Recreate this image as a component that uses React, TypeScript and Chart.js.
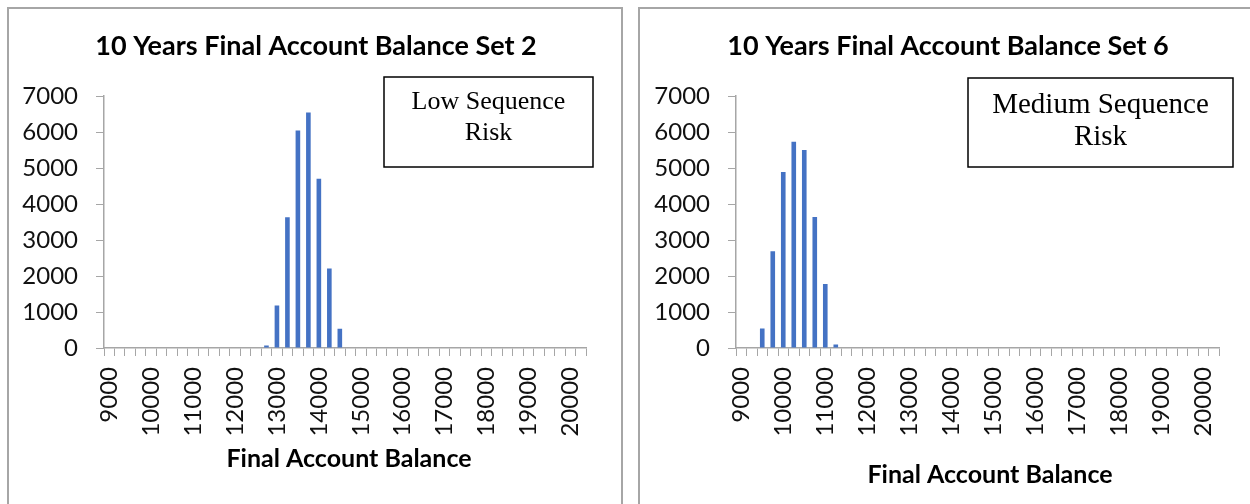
import React, { useEffect, useRef } from 'react';
import { Chart, registerables } from 'chart.js';

Chart.register(...registerables);

// Category bins (final account balance)
const categories = [
  9000, 9250, 9500, 9750, 10000, 10250, 10500, 10750, 11000, 11250, 11500, 11750,
  12000, 12250, 12500, 12750, 13000, 13250, 13500, 13750, 14000, 14250, 14500, 14750,
  15000, 15250, 15500, 15750, 16000, 16250, 16500, 16750, 17000, 17250, 17500, 17750,
  18000, 18250, 18500, 18750, 19000, 19250, 19500, 19750, 20000, 20250,
];

// Labeled x ticks
const xTickLabels = [9000, 10000, 11000, 12000, 13000, 14000, 15000, 16000, 17000, 18000, 19000, 20000];

// Y ticks
const yMin = 0;
const yMax = 7000;
const yStep = 1000;

// Set 2 frequencies (Low Sequence Risk)
const set2Counts = [
  0, 0, 0, 0, 0, 0, 0, 0, 0, 0, 0, 0,
  0, 0, 0, 70, 1180, 3630, 6040, 6540, 4700, 2210, 535, 0,
  0, 0, 0, 0, 0, 0, 0, 0, 0, 0, 0, 0,
  0, 0, 0, 0, 0, 0, 0, 0, 0, 0,
];

// Set 6 frequencies (Medium Sequence Risk)
const set6Counts = [
  0, 0, 540, 2690, 4890, 5730, 5500, 3640, 1780, 100, 0, 0,
  0, 0, 0, 0, 0, 0, 0, 0, 0, 0, 0, 0,
  0, 0, 0, 0, 0, 0, 0, 0, 0, 0, 0, 0,
  0, 0, 0, 0, 0, 0, 0, 0, 0, 0,
];

const set2Title = '10 Years Final Account Balance Set 2';
const set6Title = '10 Years Final Account Balance Set 6';
const xAxisTitle = 'Final Account Balance';
const set2Note = ['Low Sequence', 'Risk'];
const set6Note = ['Medium Sequence', 'Risk'];

const BAR = '#4472C4';
const AXIS = '#a6a6a6';
const SANS = 'Lato';
const SERIF = '"Liberation Serif", "Times New Roman", serif';

type Geo = {
  canvasW: number;
  canvasH: number;
  areaLeft: number;
  areaRight: number;
  areaTop: number;
  areaBottom: number;
  titleX: number;
  titleY: number;
  axisTitleX: number;
  axisTitleY: number;
  box: { x1: number; y1: number; x2: number; y2: number };
  noteX: number;
  noteY: number[];
  noteSize: number;
};

function Panel(props: { left: number; width: number; counts: number[]; title: string; note: string[]; geo: Geo }) {
  const ref = useRef<HTMLCanvasElement | null>(null);
  const { counts, title, note, geo } = props;

  useEffect(() => {
    if (!ref.current) return;
    const textPlugin = {
      id: 'panelText',
      afterDraw(chart: any) {
        const ctx = chart.ctx as CanvasRenderingContext2D;
        ctx.save();
        ctx.fillStyle = '#000';
        ctx.textAlign = 'center';
        ctx.textBaseline = 'alphabetic';
        ctx.font = `bold 27px ${SANS}`;
        ctx.fillText(title, geo.titleX, geo.titleY);
        ctx.font = `bold 25px ${SANS}`;
        ctx.fillText(xAxisTitle, geo.axisTitleX, geo.axisTitleY);
        // annotation box
        const b = geo.box;
        ctx.fillStyle = '#fff';
        ctx.fillRect(b.x1, b.y1, b.x2 - b.x1, b.y2 - b.y1);
        ctx.strokeStyle = '#000';
        ctx.lineWidth = 1.5;
        ctx.strokeRect(b.x1, b.y1, b.x2 - b.x1, b.y2 - b.y1);
        ctx.fillStyle = '#000';
        ctx.textBaseline = 'middle';
        ctx.font = `${geo.noteSize}px ${SERIF}`;
        note.forEach((line, i) => ctx.fillText(line, geo.noteX, geo.noteY[i]));
        ctx.restore();
      },
    };

    const chart = new Chart(ref.current, {
      type: 'bar',
      data: {
        labels: categories.map(String),
        datasets: [
          {
            data: counts,
            backgroundColor: BAR,
            borderWidth: 0,
            barPercentage: 0.44,
            categoryPercentage: 1,
          },
        ],
      },
      options: {
        animation: false,
        responsive: false,
        events: [],
        layout: {
          padding: {
            top: geo.areaTop,
            left: 0,
            bottom: 0,
            right: geo.canvasW - geo.areaRight,
          },
        },
        plugins: {
          legend: { display: false },
          tooltip: { enabled: false },
          title: { display: false },
        },
        scales: {
          x: {
            offset: true,
            grid: {
              display: true,
              drawOnChartArea: false,
              drawTicks: true,
              tickLength: 8,
              offset: true,
              color: AXIS,
              lineWidth: 1,
            },
            border: { display: true, color: AXIS, width: 1.5 },
            ticks: {
              autoSkip: false,
              maxRotation: 90,
              minRotation: 90,
              padding: 11,
              color: '#111',
              font: { family: SANS, size: 24 },
              callback: (_v: any, i: number) =>
                xTickLabels.includes(categories[i]) ? String(categories[i]) : '',
            },
            afterFit: (s: any) => {
              s.height = geo.canvasH - geo.areaBottom;
            },
          },
          y: {
            min: yMin,
            max: yMax,
            grid: {
              display: true,
              drawOnChartArea: false,
              drawTicks: true,
              tickLength: 8,
              color: AXIS,
              lineWidth: 1,
            },
            border: { display: true, color: AXIS, width: 1.5 },
            ticks: {
              stepSize: yStep,
              padding: 18,
              color: '#111',
              font: { family: SANS, size: 24 },
              callback: (v: any) => String(v),
            },
            afterFit: (s: any) => {
              s.width = geo.areaLeft;
            },
          },
        },
      },
      plugins: [textPlugin],
    } as any);
    return () => chart.destroy();
  }, []);

  return (
    <div
      style={{
        position: 'absolute',
        left: props.left,
        top: 7,
        width: props.width,
        height: 520,
        boxSizing: 'border-box',
        border: `2px solid ${AXIS}`,
        background: '#fff',
      }}
    >
      <canvas ref={ref} width={geo.canvasW} height={geo.canvasH} style={{ display: 'block' }} />
    </div>
  );
}

const geo2: Geo = {
  canvasW: 612,
  canvasH: 495,
  areaLeft: 95,
  areaRight: 583,
  areaTop: 87,
  areaBottom: 339,
  titleX: 307,
  titleY: 46,
  axisTitleX: 340,
  axisTitleY: 458,
  box: { x1: 375, y1: 68, x2: 584, y2: 158 },
  noteX: 479.5,
  noteY: [93, 124],
  noteSize: 26,
};

const geo6: Geo = {
  canvasW: 614,
  canvasH: 495,
  areaLeft: 96,
  areaRight: 586,
  areaTop: 87,
  areaBottom: 339,
  titleX: 308,
  titleY: 46,
  axisTitleX: 350,
  axisTitleY: 474,
  box: { x1: 328, y1: 69, x2: 593, y2: 158 },
  noteX: 460.5,
  noteY: [96, 128],
  noteSize: 29,
};

export default function App() {
  return (
    <div
      style={{
        position: 'fixed',
        left: 0,
        top: 0,
        width: 1250,
        height: 504,
        overflow: 'hidden',
        background: '#fff',
      }}
    >
      <Panel left={7} width={616} counts={set2Counts} title={set2Title} note={set2Note} geo={geo2} />
      <Panel left={638} width={620} counts={set6Counts} title={set6Title} note={set6Note} geo={geo6} />
    </div>
  );
}
